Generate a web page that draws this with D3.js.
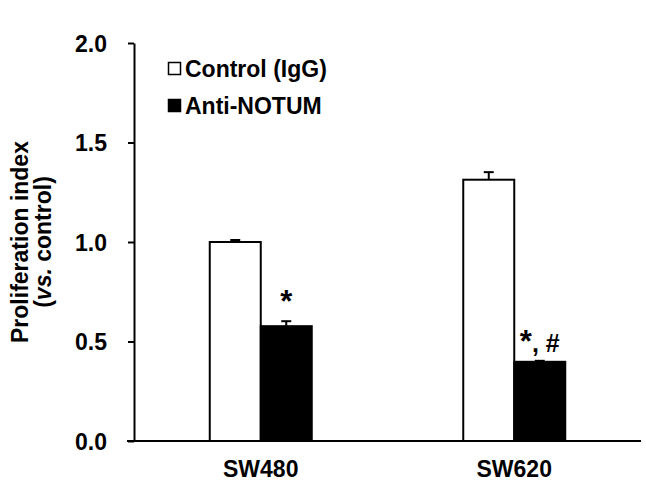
<!DOCTYPE html>
<html>
<head>
<meta charset="utf-8">
<script src="https://cdn.jsdelivr.net/npm/d3@7"></script>
<style>
  html, body { margin: 0; padding: 0; background: #fff; }
  svg { display: block; }
  text { font-family: "Liberation Sans", Arial, sans-serif; font-weight: bold; fill: #000; }
</style>
</head>
<body>
<svg id="chart" width="646" height="496"></svg>
<script>
const categories = ["SW480", "SW620"];
const seriesNames = ["Control (IgG)", "Anti-NOTUM"];
const controlValues = [1.00, 1.313];
const controlErrors = [0.010, 0.038];
const antiValues = [0.577, 0.398];
const antiErrors = [0.025, 0.005];
const antiMarks = [["*", ""], ["*", ", #"]];
const yTicks = [0, 0.5, 1.0, 1.5, 2.0];

const svg = d3.select("#chart");
const fills = ["#ffffff", "#000000"];

const x0 = d3.scaleBand().domain(categories).range([134, 641]).paddingInner(0).paddingOuter(0);
const y = d3.scaleLinear().domain([0, 2]).range([441, 43]);
const barW = 51;
const x1 = d3.scaleBand().domain(seriesNames).range([-barW, barW]);

const data = [];
categories.forEach((c, i) => {
  data.push({cat: c, s: seriesNames[0], v: controlValues[i], e: controlErrors[i], mark: null});
  data.push({cat: c, s: seriesNames[1], v: antiValues[i], e: antiErrors[i], mark: antiMarks[i]});
});
const cx = d => x0(d.cat) + x0.bandwidth() / 2 + x1(d.s);

// bars
svg.append("g").selectAll("rect").data(data).join("rect")
  .attr("x", d => cx(d))
  .attr("y", d => y(d.v))
  .attr("width", x1.bandwidth())
  .attr("height", d => y(0) - y(d.v))
  .attr("fill", d => fills[seriesNames.indexOf(d.s)])
  .attr("stroke", "#000")
  .attr("stroke-width", 2);

// error bars
const eg = svg.append("g").attr("stroke", "#000").attr("stroke-width", 2);
data.forEach(d => {
  const mx = cx(d) + x1.bandwidth() / 2;
  eg.append("line").attr("x1", mx).attr("x2", mx).attr("y1", y(d.v)).attr("y2", y(d.v + d.e));
  eg.append("line").attr("x1", mx - 5).attr("x2", mx + 5).attr("y1", y(d.v + d.e)).attr("y2", y(d.v + d.e));
});

// significance marks
const mk = svg.append("g").selectAll("text").data(data.filter(d => d.mark)).join("text")
  .attr("x", d => cx(d) + x1.bandwidth() / 2)
  .attr("y", d => y(d.v + d.e) - 9)
  .attr("text-anchor", "middle");
mk.append("tspan").style("font-size", "31px").text(d => d.mark[0]);
mk.append("tspan").style("font-size", "25px").text(d => d.mark[1]);

// y axis
const yAxis = d3.axisLeft(y).tickValues(yTicks).tickFormat(d3.format(".1f")).tickSize(6).tickSizeOuter(0).tickPadding(21);
const gy = svg.append("g").attr("transform", "translate(134,0)").call(yAxis);
gy.select(".domain").attr("stroke", "#000").attr("stroke-width", 2);
gy.selectAll(".tick line").attr("stroke", "#000").attr("stroke-width", 2);
gy.selectAll(".tick text").style("font-size", "23px").style("font-family", "Liberation Sans, Arial, sans-serif").style("font-weight", "bold").attr("dy", "0.35em");

// x axis
const xAxis = d3.axisBottom(x0).tickSize(0).tickSizeOuter(0).tickPadding(20);
const gx = svg.append("g").attr("transform", "translate(0,441)").call(xAxis);
gx.select(".domain").attr("stroke", "#000").attr("stroke-width", 2).attr("d", "M127,0H641");
gx.selectAll(".tick text").style("font-size", "23px").style("font-family", "Liberation Sans, Arial, sans-serif").style("font-weight", "bold");

// y axis title
const yt = svg.append("text").attr("transform", "translate(28,242) rotate(-90)").attr("text-anchor", "middle").style("font-size", "23px");
yt.append("tspan").attr("x", 0).attr("y", 0).text("Proliferation index");
const t2 = yt.append("tspan").attr("x", 0).attr("y", 23);
t2.append("tspan").text("(");
t2.append("tspan").style("font-style", "italic").text("vs.");
t2.append("tspan").text(" control)");

// legend
const lg = svg.append("g").attr("transform", "translate(168,62)");
seriesNames.forEach((s, i) => {
  const g = lg.append("g").attr("transform", `translate(0,${i * 37})`);
  g.append("rect").attr("x", 0.5).attr("y", 0.5).attr("width", 12).attr("height", 12)
    .attr("fill", fills[i]).attr("stroke", "#000").attr("stroke-width", 1.5);
  g.append("text").attr("x", 17).attr("y", 15).style("font-size", "23px").text(s);
});
</script>
</body>
</html>
